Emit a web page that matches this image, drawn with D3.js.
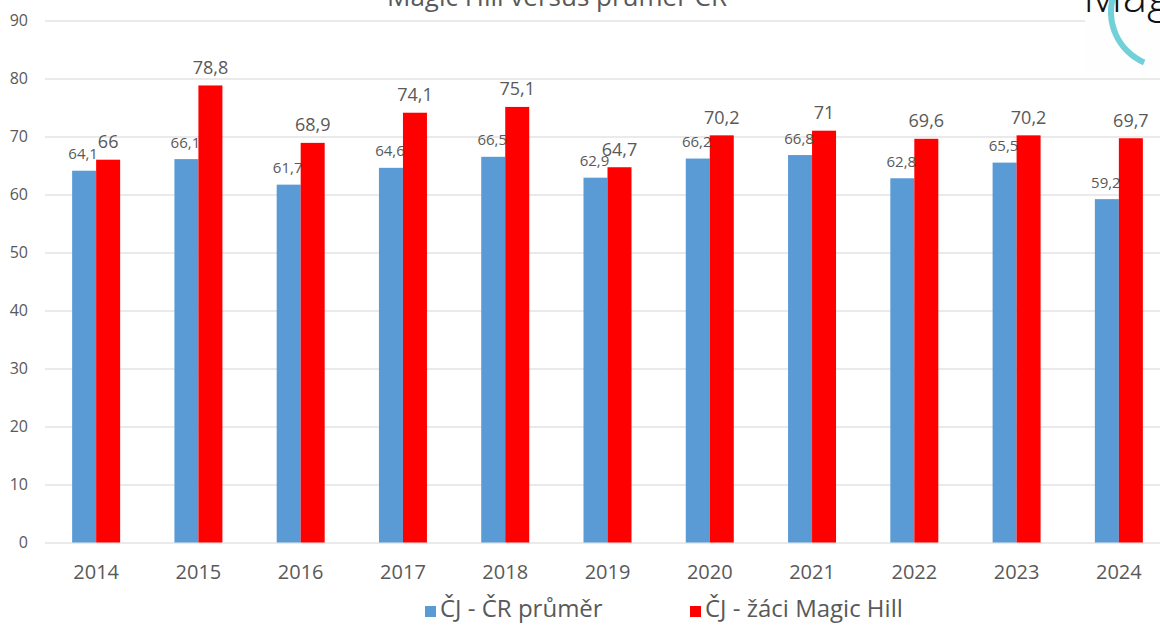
<!DOCTYPE html>
<html>
<head>
<meta charset="utf-8">
<script src="https://cdn.jsdelivr.net/npm/d3@7"></script>
<style>
    body { margin: 0; background: #fff; }
    text { font-family: "Open Sans", "Liberation Sans", sans-serif; fill: #595959; }
</style>
</head>
<body>
<div id="chartDiv"></div>
<script>
// values
const years = ['2014', '2015', '2016', '2017', '2018', '2019', '2020', '2021', '2022', '2023', '2024'];
const crAverage = [64.1, 66.1, 61.7, 64.6, 66.5, 62.9, 66.2, 66.8, 62.8, 65.5, 59.2];
const magicHill = [66, 78.8, 68.9, 74.1, 75.1, 64.7, 70.2, 71, 69.6, 70.2, 69.7];
const yTicks = [0, 10, 20, 30, 40, 50, 60, 70, 80, 90];
const seriesNames = ['ČJ - ČR průměr', 'ČJ - žáci Magic Hill'];
const seriesColors = ['#5b9bd5', '#ff0000'];
const title = 'Magic Hill versus průměr ČR';

/**
 * Grouped bar chart, two series per year
 */
class BarChart {
    /**
     * @param width
     * @param height
     */
    constructor(width, height) {
        this.width = width;
        this.height = height;
        this.svg = this.setupSVG();

        this.x = d3.scaleBand()
            .domain(years)
            .range([45, 1170])
            .padding(0);

        this.y = d3.scaleLinear()
            .domain([0, 90])
            .range([542.5, 20.5]);
    }

    setupSVG() {
        return d3.select('#chartDiv')
            .append('svg')
            .attr('width', this.width)
            .attr('height', this.height);
    }

    drawGrid() {
        const axis = d3.axisLeft(this.y)
            .tickValues(yTicks)
            .tickSize(-(this.width - 45))
            .tickPadding(17)
            .tickFormat(d3.format('d'));

        const g = this.svg.append('g')
            .attr('transform', 'translate(45,0)')
            .call(axis);

        g.select('.domain').remove();
        g.selectAll('.tick line')
            .attr('stroke', '#e3e3e3')
            .attr('stroke-width', 1.3);
        g.selectAll('.tick text')
            .attr('font-size', 16)
            .attr('fill', '#595959');
    }

    drawBars() {
        const barW = 24;
        const rows = years.map((yr, i) => ({year: yr, vals: [crAverage[i], magicHill[i]]}));

        const groups = this.svg.selectAll('g.year')
            .data(rows).enter()
            .append('g')
            .attr('class', 'year')
            .attr('transform', d => 'translate(' + (this.x(d.year) + this.x.bandwidth() / 2) + ',0)');

        groups.selectAll('rect')
            .data(d => d.vals).enter()
            .append('rect')
            .attr('x', (d, i) => i === 0 ? -barW : 0)
            .attr('width', barW)
            .attr('y', d => this.y(d))
            .attr('height', d => this.y(0) - this.y(d))
            .attr('fill', (d, i) => seriesColors[i]);

        // value labels, decimal comma like the original
        groups.selectAll('text')
            .data(d => d.vals).enter()
            .append('text')
            .attr('x', (d, i) => i === 0 ? -barW / 2 - 1 : barW / 2)
            .attr('y', d => this.y(d) - 11.5)
            .attr('text-anchor', 'middle')
            .attr('font-size', (d, i) => i === 0 ? 15 : 18)
            .text(d => String(d).replace('.', ','));
    }

    drawXAxis() {
        const axis = d3.axisBottom(this.x).tickSize(0).tickPadding(22);
        const g = this.svg.append('g')
            .attr('transform', 'translate(0,' + this.y(0) + ')')
            .call(axis);
        g.select('.domain').remove();
        g.selectAll('.tick text')
            .attr('font-size', 20)
            .attr('fill', '#595959');
    }

    drawLegend() {
        const xs = [425, 690];
        const lg = this.svg.selectAll('g.legend')
            .data(seriesNames).enter()
            .append('g')
            .attr('class', 'legend')
            .attr('transform', (d, i) => 'translate(' + xs[i] + ',606)');

        lg.append('rect')
            .attr('width', 11)
            .attr('height', 11)
            .attr('fill', (d, i) => seriesColors[i]);

        lg.append('text')
            .attr('x', 15)
            .attr('y', 11)
            .attr('font-size', 24)
            .text(d => d);
    }

    drawTitle() {
        this.svg.append('text')
            .attr('x', 557)
            .attr('y', 6)
            .attr('text-anchor', 'middle')
            .attr('font-size', 26)
            .text(title);
    }

    // cut off logo in the top right corner
    drawLogo() {
        this.svg.append('rect')
            .attr('x', 1085)
            .attr('y', 0)
            .attr('width', 80)
            .attr('height', 73)
            .attr('fill', '#fefefe');

        const arc = d3.arc()
            .innerRadius(52)
            .outerRadius(58)
            .startAngle(Math.PI * 1.13)
            .endAngle(Math.PI * 1.6);

        this.svg.append('path')
            .attr('d', arc())
            .attr('transform', 'translate(1166,12)')
            .attr('fill', '#72d0d8');

        this.svg.append('text')
            .attr('x', 1083)
            .attr('y', 12)
            .attr('font-size', 46)
            .attr('font-weight', 300)
            .style('fill', '#111')
            .text('Mag');
    }
}

const chart = new BarChart(1160, 625);
chart.drawGrid();
chart.drawBars();
chart.drawXAxis();
chart.drawLegend();
chart.drawTitle();
chart.drawLogo();
</script>
</body>
</html>
